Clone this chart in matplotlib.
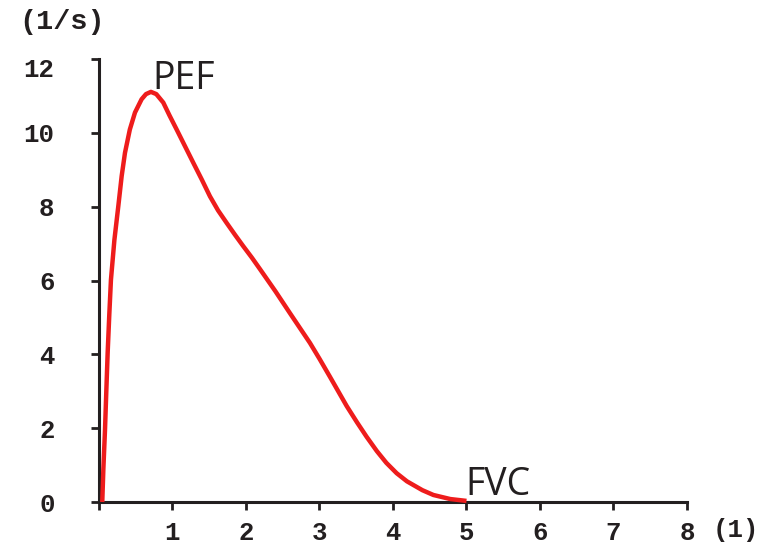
import matplotlib
matplotlib.use("Agg")
import matplotlib.pyplot as plt
import matplotlib.transforms as mtransforms

# Flow-volume curve points (volume in l, flow in l/s)
volume = [0.045, 0.060, 0.082, 0.100, 0.118, 0.140, 0.163, 0.210, 0.263, 0.309,
          0.354, 0.420, 0.490, 0.580, 0.640, 0.707, 0.780, 0.875, 0.960, 1.057,
          1.170, 1.283, 1.400, 1.510, 1.620, 1.737, 1.850, 1.963, 2.080, 2.190,
          2.400, 2.600, 2.870, 3.000, 3.140, 3.370, 3.510, 3.640, 3.780, 3.910,
          4.050, 4.190, 4.400, 4.550, 4.780, 5.000]
flow = [0.00, 0.90, 1.95, 3.00, 4.03, 5.05, 6.02, 7.10, 8.01, 8.83,
        9.46, 10.09, 10.55, 10.91, 11.05, 11.11, 11.05, 10.82, 10.47, 10.09,
        9.64, 9.19, 8.73, 8.28, 7.90, 7.56, 7.24, 6.93, 6.62, 6.31,
        5.71, 5.11, 4.31, 3.88, 3.40, 2.60, 2.16, 1.77, 1.38, 1.06,
        0.78, 0.56, 0.32, 0.19, 0.08, 0.03]

xticks = [0, 1, 2, 3, 4, 5, 6, 7, 8]
xticklabels = ["", "1", "2", "3", "4", "5", "6", "7", "8"]
yticks = [0, 2, 4, 6, 8, 10, 12]
yticklabels = ["0", "2", "4", "6", "8", "10", "12"]

fig = plt.figure(figsize=(7.63, 5.49), dpi=100)
ax = fig.add_axes([0.1297, 0.0856, 0.9004 - 0.1297, 0.8925 - 0.0856])

ax.plot(volume, flow, color="#ee1c1c", lw=3.2, solid_joinstyle="round",
        solid_capstyle="butt", zorder=3, clip_on=False)

ax.set_xlim(0, 8)
ax.set_ylim(0, 12)
for s in ["top", "right"]:
    ax.spines[s].set_visible(False)
for s in ["left", "bottom"]:
    ax.spines[s].set_linewidth(2.2)
    ax.spines[s].set_color("#231f20")

ax.set_xticks(xticks)
ax.set_xticklabels(xticklabels)
ax.set_yticks(yticks)
ax.set_yticklabels(yticklabels)
for lab in ax.get_xticklabels() + ax.get_yticklabels():
    lab.set_fontfamily("Liberation Mono")
    lab.set_fontweight("bold")
    lab.set_fontsize(18.5)
    lab.set_color("#231f20")
ax.tick_params(axis="both", direction="out", length=6, width=2, color="#231f20")
ax.tick_params(axis="x", pad=8)
ax.tick_params(axis="y", pad=26)

# the top y label sits slightly lower in the reference
top = ax.get_yticklabels()[-1]
top.set_transform(top.get_transform() + mtransforms.ScaledTranslation(0, -8 / 100, fig.dpi_scale_trans))

ax.text(0.72, 11.2, "PEF", fontfamily="Open Sans", fontsize=27, color="#231f20",
        ha="left", va="baseline")
ax.text(4.98, 0.2, "FVC", fontfamily="Open Sans", fontsize=27, color="#231f20",
        ha="left", va="baseline")

fig.text(62 / 763, 1 - 22 / 549, "(1/s)", fontfamily="Liberation Mono", fontweight="bold",
         fontsize=20.5, color="#231f20", ha="center", va="center")
fig.text(736 / 763, 1 - 530 / 549, "(1)", fontfamily="Liberation Mono", fontweight="bold",
         fontsize=18.5, color="#231f20", ha="center", va="center")

fig.savefig("out.png", dpi=100)
